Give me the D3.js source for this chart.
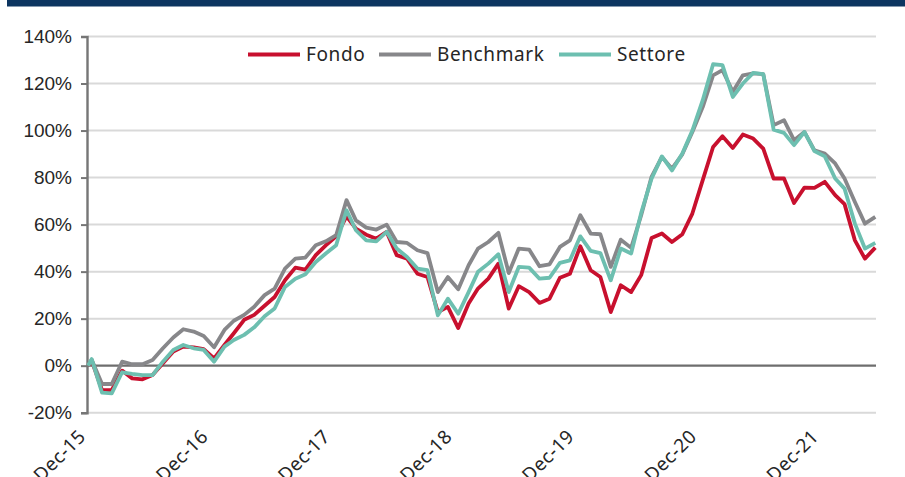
<!DOCTYPE html>
<html>
<head>
<meta charset="utf-8">
<script src="https://cdn.jsdelivr.net/npm/d3@7"></script>
<style>
  html, body { margin: 0; padding: 0; background: #fff; }
  svg { display: block; font-family: "Noto Sans", sans-serif; }
</style>
</head>
<body>
<svg id="chart"></svg>
<script>
// inception date, then one point per month end
const inception = "2015-12-20";
const firstMonthEnd = "2015-12-31";
const lastMonthEnd = "2022-05-31";

const seriesNames = ["Fondo", "Benchmark", "Settore"];

const fondo = [0,
  2.2, -10.4, -10.4, -2.1, -5.4, -5.8, -4, 1, 6, 8.1, 7.8, 7, 3.1,
  8.8, 13.8, 19.5, 21.6, 25.5, 29.2, 36.3, 41.7, 40.9, 47, 51.2, 55,
  63.5, 58.3, 55.7, 54, 56.9, 47, 45.5, 39.1, 37.7, 22.8, 25, 16,
  26.4, 32.8, 37, 43.4, 24.3, 33.8, 31.3, 26.7, 28.5, 37.4, 39.1, 50.8,
  40.6, 37.7, 22.8, 34.2, 31.3, 38.5, 54.3, 56.2, 52.6, 55.9, 64.7, 78.9,
  93, 97.6, 92.6, 98.3, 96.6, 92.3, 79.6, 79.6, 69.2, 75.7, 75.6, 78.2,
  72.5, 68.7, 53.3, 45.5, 50.2];

const benchmark = [0,
  2.5, -7.8, -7.8, 1.7, 0.6, 0.6, 2.4, 7.4, 12, 15.5, 14.5, 12.6, 7.8,
  15.2, 19.1, 21.6, 25.1, 30, 32.8, 41.3, 45.5, 46, 51.2, 52.9, 55.5,
  70.4, 61.8, 58.7, 57.9, 60, 52.6, 52.2, 49.1, 47.9, 31.3, 37.7, 32.5,
  42.7, 49.8, 52.6, 56.5, 39.4, 49.8, 49.4, 42.3, 43.1, 50.5, 53.3, 64,
  56.2, 55.9, 42, 53.6, 50.1, 64, 80.3, 88.8, 83.8, 89.9, 99.4, 110,
  123.5, 125.7, 116.5, 123.5, 124.3, 124, 102.3, 104.4, 95.9, 99.4, 91.6, 90.2,
  86, 79.6, 69.6, 60.4, 63.3];

const settore = [0,
  2.8, -11.5, -11.8, -2.8, -3.5, -4, -4, 1.7, 6.7, 8.8, 7.4, 6.7, 1.7,
  8.1, 10.9, 13.1, 16.3, 21, 24.3, 33.5, 37, 38.9, 44.1, 47.7, 51.2,
  66.1, 57.6, 53.3, 52.9, 56.9, 49.8, 46.2, 41.3, 40.6, 21.4, 28.5, 22.1,
  31.3, 39.9, 43.4, 47.4, 31.3, 42, 41.7, 37, 37.4, 43.7, 44.8, 55,
  48.8, 47.9, 36.3, 49.8, 47.7, 65, 79.5, 89, 83, 90.2, 100, 112.9,
  128.2, 127.8, 114.3, 120, 124.5, 124, 100.4, 99, 93.8, 99.4, 91.3, 89,
  79.6, 75.3, 60.4, 49.8, 52.2];

const yTicks = [-20, 0, 20, 40, 60, 80, 100, 120, 140];
const xTickLabels = ["Dec-15", "Dec-16", "Dec-17", "Dec-18", "Dec-19", "Dec-20", "Dec-21"];

const colors = ["#c8102e", "#87878a", "#6dbfb0"];

const width = 905, height = 477;
const plotLeft = 88, plotRight = 875.3, plotTop = 36.5, plotBottom = 412.7;

const parse = d3.timeParse("%Y-%m-%d");
// month ends between the two dates (range needs the month starts)
const monthEnds = d3.timeMonth.range(d3.timeMonth.floor(parse(firstMonthEnd)), parse(lastMonthEnd))
    .map(d => d3.timeDay.offset(d3.timeMonth.offset(d, 1), -1));
const dates = [parse(inception)].concat(monthEnds);

const svg = d3.select("#chart")
    .attr("width", width)
    .attr("height", height);

// navy band on top
svg.append("rect")
    .attr("x", 7).attr("y", 0)
    .attr("width", width - 7).attr("height", 6.5)
    .attr("fill", "#0c3560");

const x = d3.scaleTime()
    .domain([dates[0], dates[dates.length - 1]])
    .range([plotLeft, plotRight]);

const y = d3.scaleLinear()
    .domain([-20, 140])
    .range([plotBottom, plotTop]);

// gridlines
svg.append("g")
    .selectAll("line")
    .data(yTicks.filter(d => d !== 0))
    .join("line")
    .attr("x1", plotLeft).attr("x2", 876)
    .attr("y1", d => y(d)).attr("y2", d => y(d))
    .attr("stroke", "#d9d9d9")
    .attr("stroke-width", 2);

// y axis
const yAxis = svg.append("g")
    .attr("transform", `translate(${plotLeft - 1},0)`)
    .call(d3.axisLeft(y).tickValues(yTicks).tickSize(6).tickPadding(10).tickFormat(d => d + "%"));
yAxis.select(".domain").attr("stroke", "#767676").attr("stroke-width", 2.4);
yAxis.selectAll(".tick line").attr("stroke", "#767676").attr("stroke-width", 2);
yAxis.selectAll("text")
    .attr("fill", "#262626")
    .style("font-size", "19px")
    .attr("dx", "1");

// zero line
svg.append("line")
    .attr("x1", plotLeft).attr("x2", 876)
    .attr("y1", y(0)).attr("y2", y(0))
    .attr("stroke", "#6e6e6e")
    .attr("stroke-width", 2.2);

// x labels, one per year from inception
const xTicks = xTickLabels.map((d, i) => d3.timeYear.offset(dates[0], i));
svg.append("g")
    .selectAll("text")
    .data(xTicks)
    .join("text")
    .attr("transform", d => `translate(${x(d) - 6},433) rotate(-45)`)
    .attr("text-anchor", "end")
    .attr("dy", "0.35em")
    .attr("fill", "#262626")
    .style("font-size", "19px")
    .style("letter-spacing", "0.4px")
    .text((d, i) => xTickLabels[i]);

// lines
const line = d3.line()
    .x((d, i) => x(dates[i]))
    .y(d => y(d));

svg.append("g")
    .selectAll("path")
    .data([fondo, benchmark, settore])
    .join("path")
    .attr("d", line)
    .attr("fill", "none")
    .attr("stroke", (d, i) => colors[i])
    .attr("stroke-width", 3.8)
    .attr("stroke-linejoin", "round");

// legend
const legendX = [248, 379, 559];
const legend = svg.append("g")
    .selectAll("g")
    .data(seriesNames)
    .join("g")
    .attr("transform", (d, i) => `translate(${legendX[i]},54.5)`);

legend.append("line")
    .attr("x1", 0).attr("x2", 52)
    .attr("stroke", (d, i) => colors[i])
    .attr("stroke-width", 4);

legend.append("text")
    .attr("x", 58)
    .attr("dy", "0.35em")
    .attr("fill", "#262626")
    .style("font-size", "19px")
    .style("letter-spacing", "0.6px")
    .text(d => d);
</script>
</body>
</html>
